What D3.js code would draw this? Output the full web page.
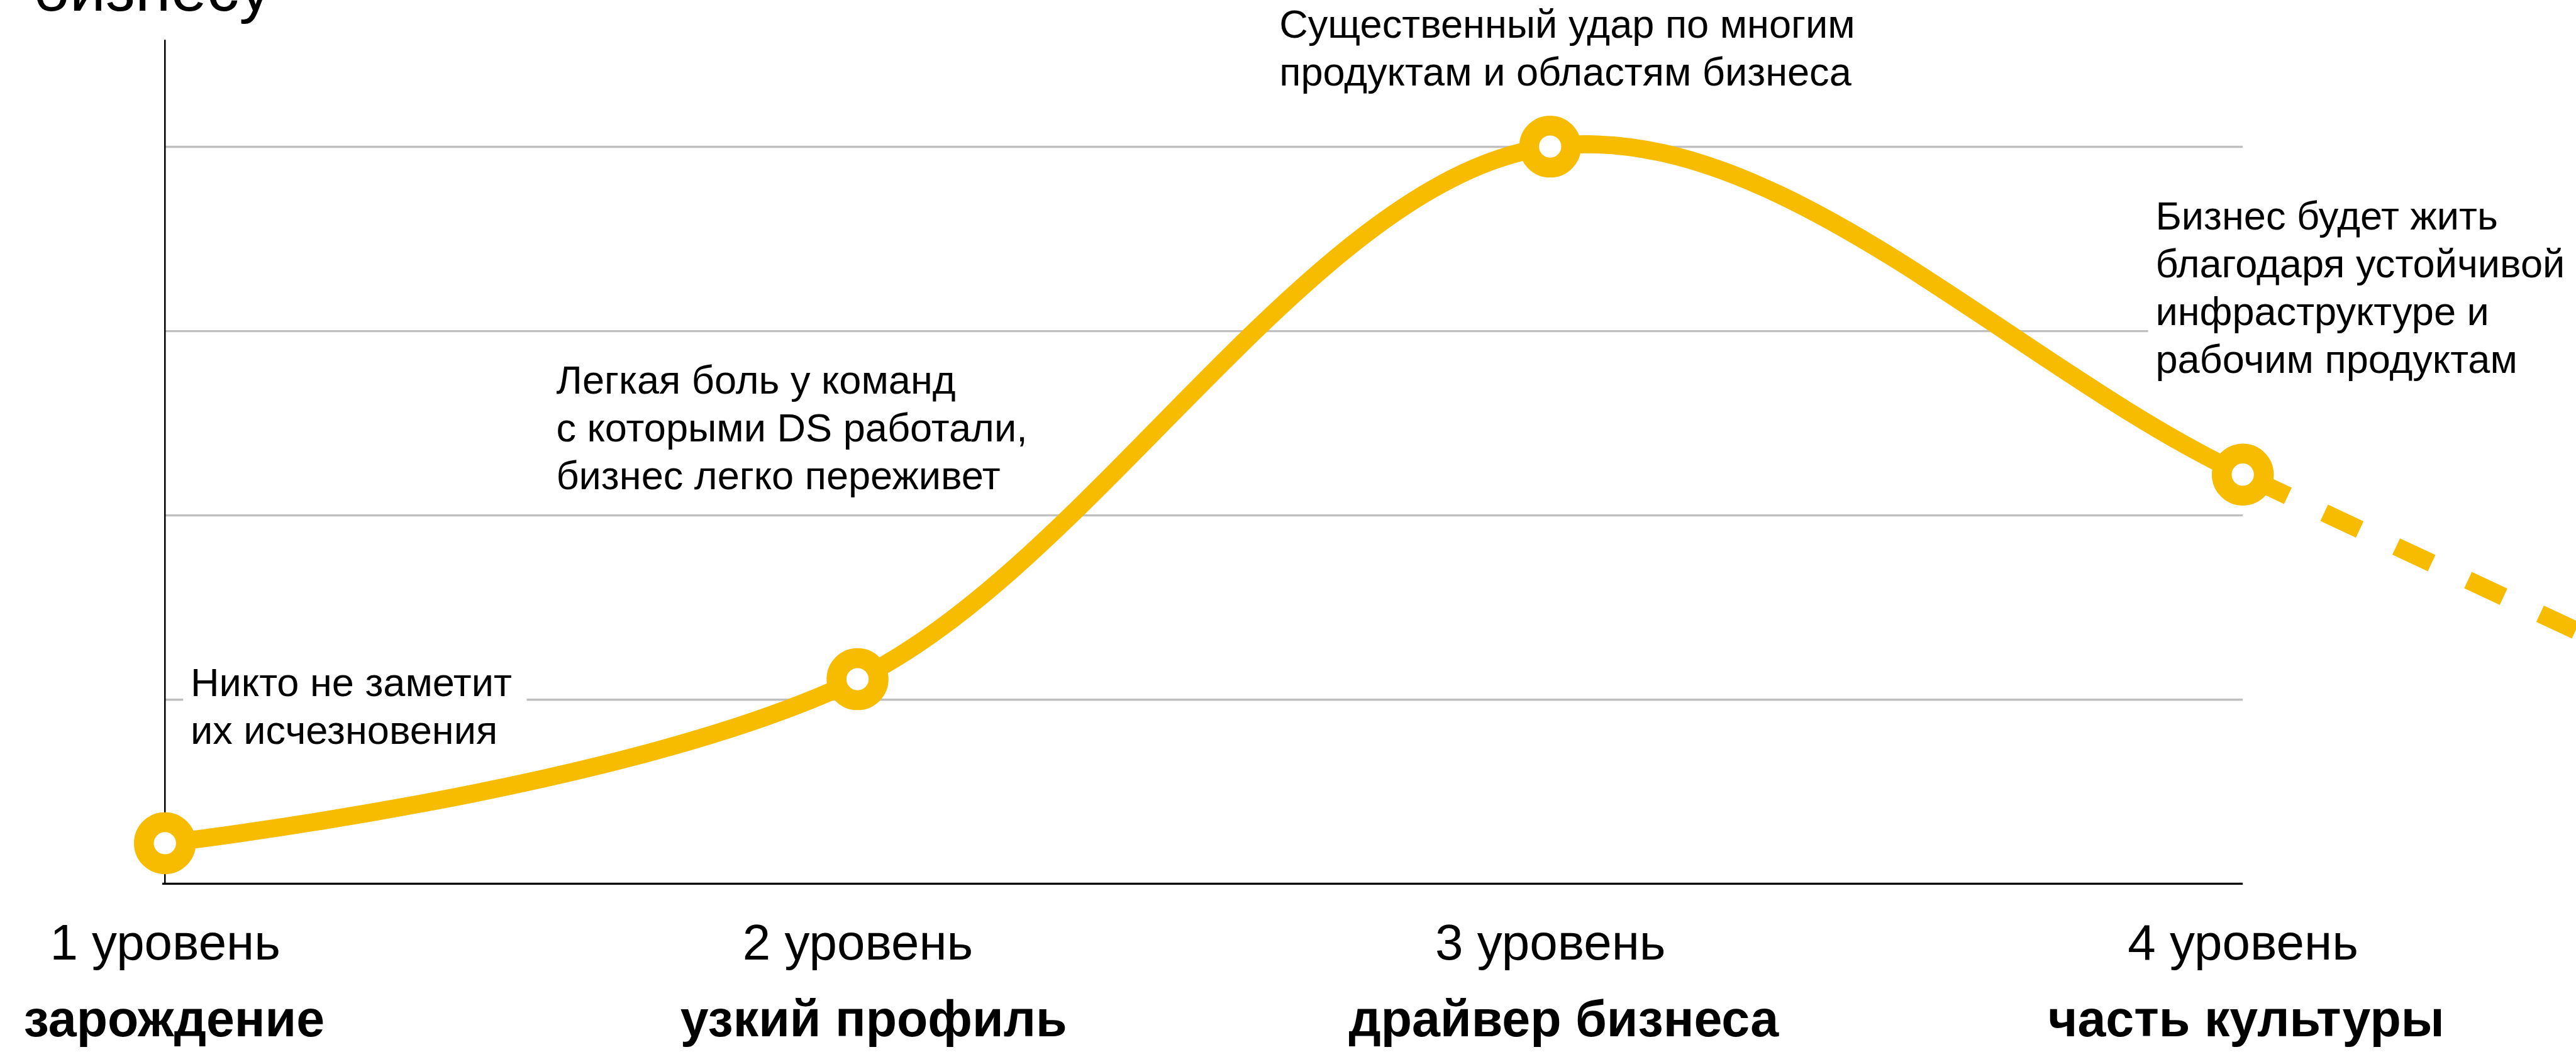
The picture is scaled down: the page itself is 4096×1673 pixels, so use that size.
<!DOCTYPE html>
<html>
<head>
<meta charset="utf-8">
<script src="https://cdn.jsdelivr.net/npm/d3@7"></script>
<style>
  html, body { margin: 0; padding: 0; background: #fff; overflow: hidden; }
  svg { display: block; }
  text { font-family: "Liberation Sans", Arial, Helvetica, sans-serif; fill: #000; }
</style>
</head>
<body>
<svg id="chart"></svg>
<script>
// ---------------- data ----------------
const levels = [1, 2, 3, 4];
const levelLabels = ["1 уровень", "2 уровень", "3 уровень", "4 уровень"];
const stageNames = ["зарождение", "узкий профиль", "драйвер бизнеса", "часть культуры"];
const damage = [0.22, 1.11, 4.0, 2.22];     // damage to business at levels 1..4 (solid)
const forecastLevel = 5;                    // dashed continuation after level 4
const forecastValue = 0.465;
const gridValues = [1, 2, 3, 4];
const yAxisTitle = "бизнесу";
const annoText = [
  ["Никто не заметит", "их исчезновения"],
  ["Легкая боль у команд", "с которыми DS работали,", "бизнес легко переживет"],
  ["Существенный удар по многим", "продуктам и областям бизнеса"],
  ["Бизнес будет жить", "благодаря устойчивой", "инфраструктуре и", "рабочим продуктам"]
];
const annoLevel = [1.037, 1.565, 2.609, 3.874];
const annoValue = [1.017, 2.659, 4.589, 3.549];
const annoBg = [true, false, false, true];

// ---------------- layout (reference pixel units) ----------------
const W = 4866, H = 1988;
const stageNudge = [17, 30, 25, 6];   // small horizontal offsets of the bold stage names
const svg = d3.select("#chart")
  .attr("width", 4096).attr("height", 1673)
  .attr("viewBox", `0 0 ${W} ${H}`);

const x = d3.scaleLinear().domain([1, 4]).range([311, 4237]);
const y = d3.scaleLinear().domain([0, 4]).range([1670, 277]);
const yTop = 4.58;
const YELLOW = "#F7BB00";

// grid lines
const grid = svg.append("g")
  .attr("transform", `translate(${x(1)},0)`)
  .call(d3.axisLeft(y).tickValues(gridValues).tickSize(-(x(4) - x(1))).tickFormat(""));
grid.select(".domain").remove();
grid.selectAll(".tick line").attr("stroke", "#bfbfbf").attr("stroke-width", 4);

// y axis line
svg.append("line")
  .attr("x1", x(1)).attr("x2", x(1))
  .attr("y1", y(yTop)).attr("y2", y(0))
  .attr("stroke", "#000").attr("stroke-width", 3);

// x axis (baseline + labels)
const xAxis = svg.append("g")
  .attr("transform", `translate(0,${y(0)})`)
  .call(d3.axisBottom(x).tickValues(levels).tickSize(0).tickPadding(143)
    .tickFormat((d, i) => levelLabels[i]));
xAxis.select(".domain").remove();
svg.append("line")
  .attr("x1", x(1) - 5).attr("x2", x(4))
  .attr("y1", y(0)).attr("y2", y(0))
  .attr("stroke", "#000").attr("stroke-width", 4);
xAxis.selectAll(".tick text")
  .attr("dy", 0).attr("y", 143)
  .style("font-family", '"Liberation Sans", Arial, sans-serif')
  .style("font-size", "95px").attr("fill", "#000");
xAxis.selectAll(".tick").append("text")
  .attr("y", 288).attr("x", (d, i) => stageNudge[i])
  .attr("text-anchor", "middle")
  .style("font-size", "96px").style("font-weight", "bold")
  .attr("fill", "#000")
  .text((d, i) => stageNames[i]);

// y axis title (partially visible at the top edge, as in the original)
svg.append("text")
  .attr("x", 61).attr("y", 20)
  .style("font-size", "122px")
  .text(yAxisTitle);

// annotations
annoText.forEach((lines, i) => {
  const g = svg.append("g");
  const t = g.append("text")
    .attr("x", x(annoLevel[i]))
    .attr("y", y(annoValue[i]))
    .style("font-size", "75px");
  t.selectAll("tspan").data(lines).join("tspan")
    .attr("x", x(annoLevel[i]))
    .attr("dy", (d, j) => j === 0 ? 0 : 90)
    .text(d => d);
  if (annoBg[i]) {
    const bb = t.node().getBBox();
    g.insert("rect", "text")
      .attr("x", bb.x - 14).attr("y", bb.y - 6)
      .attr("width", bb.width + 42).attr("height", bb.height + 12)
      .attr("fill", "#fff");
  }
});

// curve: one spline through all points, solid up to level 4, dashed after
const pts = levels.map((l, i) => [l, damage[i]]);
const allPts = pts.concat([[forecastLevel, forecastValue]]);
const line = d3.line().x(d => x(d[0])).y(d => y(d[1])).curve(d3.curveCatmullRom.alpha(0.25));
const pathD = line(allPts);

const defs = svg.append("defs");
defs.append("clipPath").attr("id", "clipSolid")
  .append("rect").attr("x", 0).attr("y", 0).attr("width", x(4)).attr("height", H);
defs.append("clipPath").attr("id", "clipDash")
  .append("rect").attr("x", x(4)).attr("y", 0).attr("width", W * 2).attr("height", H);

svg.append("path")
  .attr("d", pathD)
  .attr("clip-path", "url(#clipSolid)")
  .attr("fill", "none").attr("stroke", YELLOW).attr("stroke-width", 34);

const dashPath = svg.append("path")
  .attr("d", pathD)
  .attr("clip-path", "url(#clipDash)")
  .attr("fill", "none").attr("stroke", YELLOW).attr("stroke-width", 34);

// find path length at level 4 to start the dash pattern there
const node = dashPath.node();
const total = node.getTotalLength();
let lo = 0, hi = total;
for (let k = 0; k < 40; k++) {
  const mid = (lo + hi) / 2;
  if (node.getPointAtLength(mid).x < x(4)) lo = mid; else hi = mid;
}
dashPath.attr("stroke-dasharray", "74,76").attr("stroke-dashoffset", -(lo + 20));

// points
svg.append("g").selectAll("circle").data(pts).join("circle")
  .attr("cx", d => x(d[0])).attr("cy", d => y(d[1]))
  .attr("r", 39.75)
  .attr("fill", "#fff").attr("stroke", YELLOW).attr("stroke-width", 37.5);
</script>
</body>
</html>
